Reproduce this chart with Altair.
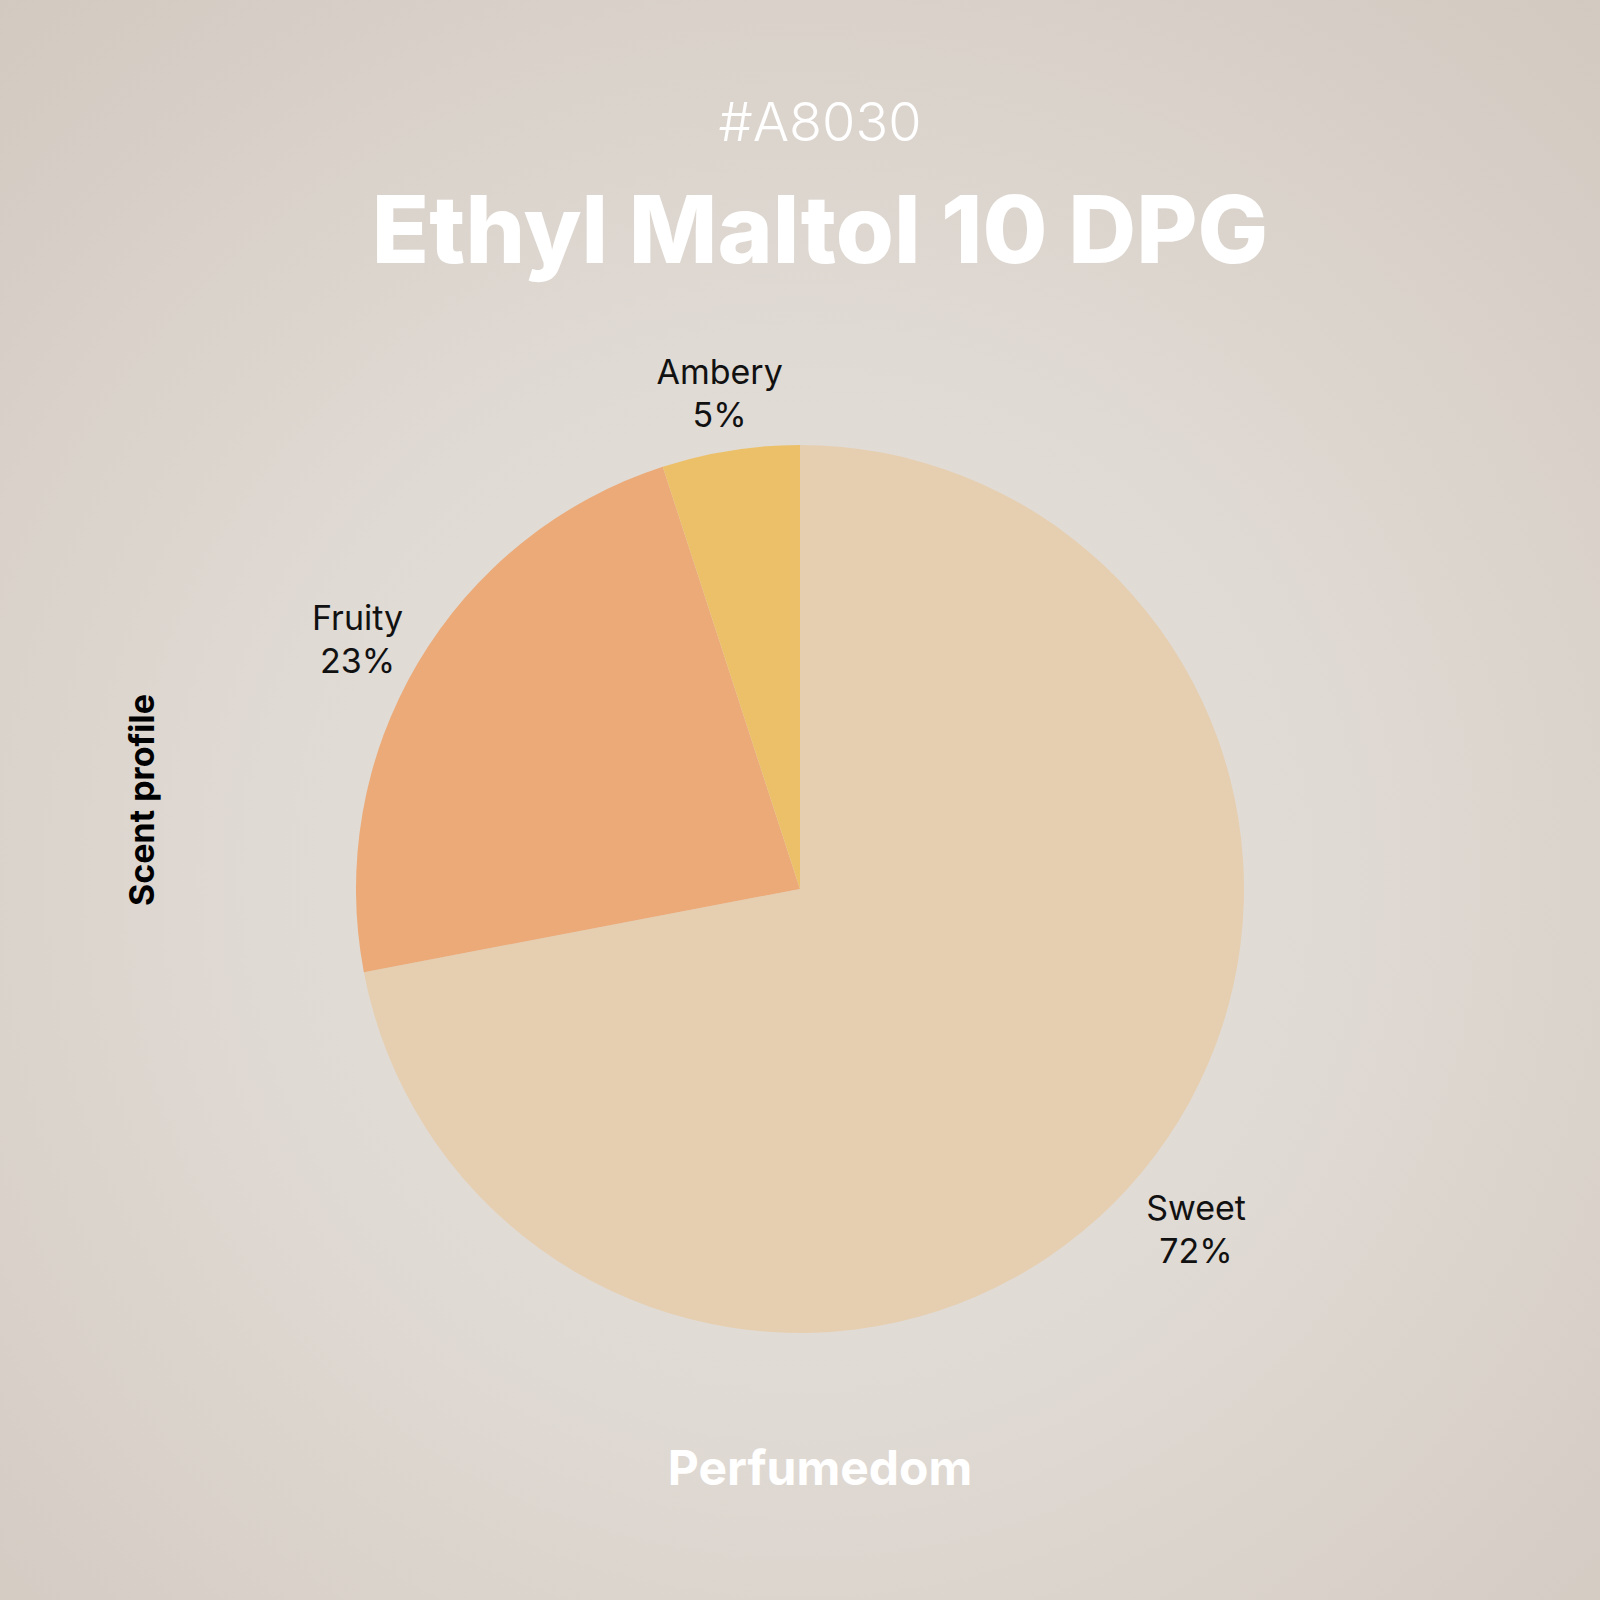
import altair as alt
import pandas as pd

categories = ["Sweet", "Fruity", "Ambery"]
shares = [72, 23, 5]
colors = ["#E6CFB1", "#EBAA77", "#ECC068"]

code_text = ["#A8030"]
title_text = ["Ethyl Maltol 10 DPG"]
brand_text = ["Perfumedom"]
axis_text = ["Scent profile"]

FONT = "Inter"
W, H = 1600, 1600
CX, CY, R = 800, 889, 444

df = pd.DataFrame({"name": categories, "share": shares, "order": [0, 1, 2]})

bg = alt.Chart(pd.DataFrame({"a": [0]})).mark_rect(
    color=alt.RadialGradient(
        gradient="radial",
        x1=0.5, y1=0.55, r1=0.0,
        x2=0.5, y2=0.55, r2=0.75,
        stops=[
            alt.GradientStop(offset=0, color="#E5E1DB"),
            alt.GradientStop(offset=0.45, color="#E0DAD4"),
            alt.GradientStop(offset=1, color="#D2C9C0"),
        ],
    )
).encode(x=alt.value(0), x2=alt.value(W), y=alt.value(0), y2=alt.value(H))

base = alt.Chart(df).encode(
    theta=alt.Theta("share:Q", stack=True),
    order=alt.Order("order:Q"),
)

pie = base.mark_arc(radius=R, stroke=None).encode(
    color=alt.Color("name:N", scale=alt.Scale(domain=categories, range=colors), legend=None),
    x=alt.value(CX), y=alt.value(CY),
)

labels = base.transform_calculate(
    label="[datum.name, datum.share + '%']"
).mark_text(
    radius=514, font=FONT, fontSize=34, fontWeight=400, color="#111111",
    lineHeight=43, baseline="middle", align="center",
).encode(text="label:N", x=alt.value(CX), y=alt.value(CY - 7))

def txt(vals, **kw):
    return alt.Chart(pd.DataFrame({"t": vals})).mark_text(**kw).encode(text="t:N")

code = txt(code_text, font=FONT, fontSize=54, fontWeight=300, color="#FFFFFF",
           baseline="alphabetic", align="center").encode(x=alt.value(820), y=alt.value(141))
title = txt(title_text, font=FONT, fontSize=94, fontWeight=800, color="#FFFFFF",
            baseline="alphabetic", align="center").encode(x=alt.value(820), y=alt.value(263))
brand = txt(brand_text, font=FONT, fontSize=48, fontWeight=700, color="#FFFFFF",
            baseline="alphabetic", align="center").encode(x=alt.value(820), y=alt.value(1485))
axis = txt(axis_text, font=FONT, fontSize=34, fontWeight=700, color="#000000",
           baseline="middle", align="center", angle=270).encode(x=alt.value(144), y=alt.value(800))

chart = alt.layer(bg, pie, labels, code, title, brand, axis).properties(
    width=W, height=H, padding=0, autosize=alt.AutoSizeParams(type="none"),
    background="#D8D0C8",
).configure_view(strokeWidth=0)

chart.save("out.html", embed_options={"renderer": "svg", "actions": False})
